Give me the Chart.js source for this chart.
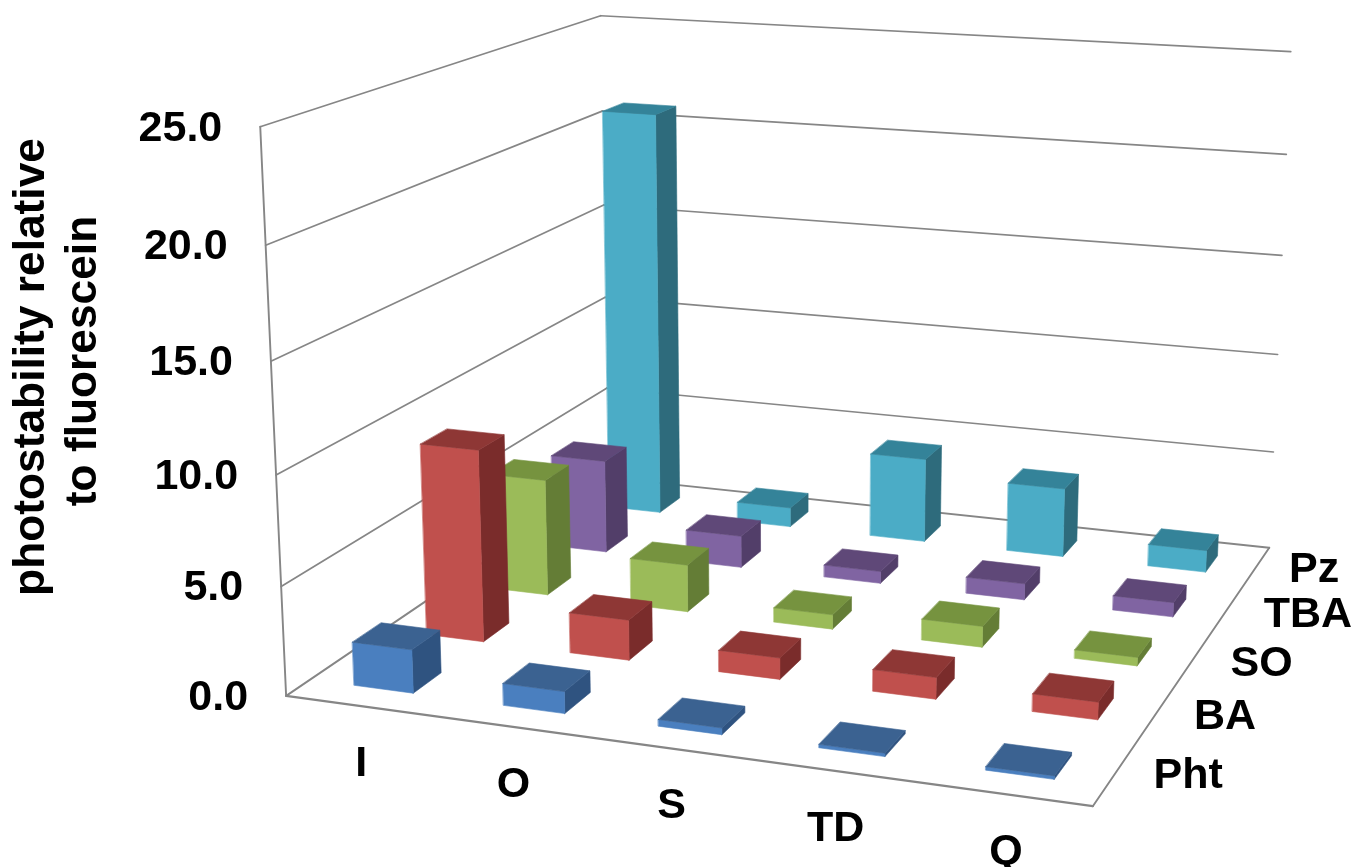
<!DOCTYPE html>
<html>
<head>
<meta charset="utf-8">
<style>
  html, body { margin: 0; padding: 0; background: #ffffff; }
  canvas { display: block; }
</style>
<script src="https://cdn.jsdelivr.net/npm/chart.js@4"></script>
</head>
<body>
<canvas id="chart" width="1358" height="867"></canvas>
<script>
// Values per sensitiser series, in solvent order I, O, S, TD, Q
const solvents = ['I', 'O', 'S', 'TD', 'Q'];
const seriesNames = ['Pht', 'BA', 'SO', 'TBA', 'Pz'];
const phtValues = [2.0, 1.0, 0.3, 0.15, 0.15];
const baValues = [9.1, 1.9, 1.0, 1.0, 0.8];
const soValues = [5.7, 2.3, 0.7, 1.0, 0.4];
const tbaValues = [4.7, 1.6, 0.6, 0.8, 0.7];
const pzValues = [20.9, 1.0, 4.3, 3.5, 1.1];
const yTitleLines = ['photostability relative', 'to fluorescein'];

const seriesValues = [phtValues, baValues, soValues, tbaValues, pzValues];
const palette = [
  { front: '#4a7fbf', top: '#3b6291', side: '#2f5380' },
  { front: '#c0504d', top: '#8e3735', side: '#7a2c2b' },
  { front: '#9bbb59', top: '#76933f', side: '#647d36' },
  { front: '#8064a2', top: '#5f4878', side: '#523e69' },
  { front: '#4bacc6', top: '#348399', side: '#2e6b7c' }
];

// Camera calibration: unit-cube positions (solvent, series, value) and where they land
const cameraAnchors = [
  [0, 0, 0, 284, 697], [1, 0, 0, 1092, 807], [1, 1, 0, 1268, 547], [0, 1, 0, 610, 478],
  [0, 0, 1, 260, 127], [0, 1, 1, 598, 16], [1, 1, 1, 1292, 52],
  [0, 0, .2, 281, 587], [0, 0, .4, 277, 474], [0, 0, .6, 272, 360], [0, 0, .8, 267, 245],
  [1, 1, .2, 1274, 451], [1, 1, .4, 1278, 355], [1, 1, .6, 1282, 255], [1, 1, .8, 1286, 155]
];

function solveLinear(M, v) {
  const n = v.length;
  const a = M.map((row, i) => [...row, v[i]]);
  for (let c = 0; c < n; c++) {
    let p = c;
    for (let r = c + 1; r < n; r++) if (Math.abs(a[r][c]) > Math.abs(a[p][c])) p = r;
    [a[c], a[p]] = [a[p], a[c]];
    for (let r = 0; r < n; r++) {
      if (r === c) continue;
      const f = a[r][c] / a[c][c];
      for (let k = c; k <= n; k++) a[r][k] -= f * a[c][k];
    }
  }
  return a.map((row, i) => row[n] / row[i]);
}

// Least-squares fit of the 3x4 projective camera (last entry fixed to 1)
function fitCamera(anchors) {
  const rows = [], rhs = [];
  for (const [x, d, z, u0, v0] of anchors) {
    const u = u0 / 1000, v = v0 / 1000;
    rows.push([x, d, z, 1, 0, 0, 0, 0, -u * x, -u * d, -u * z]); rhs.push(u);
    rows.push([0, 0, 0, 0, x, d, z, 1, -v * x, -v * d, -v * z]); rhs.push(v);
  }
  const n = 11;
  const N = Array.from({ length: n }, () => new Array(n).fill(0));
  const b = new Array(n).fill(0);
  rows.forEach((r, i) => {
    for (let p = 0; p < n; p++) {
      b[p] += r[p] * rhs[i];
      for (let q = 0; q < n; q++) N[p][q] += r[p] * r[q];
    }
  });
  return solveLinear(N, b);
}
const cam = fitCamera(cameraAnchors);
function project(x, d, z) {
  const w = cam[8] * x + cam[9] * d + cam[10] * z + 1;
  return [
    1000 * (cam[0] * x + cam[1] * d + cam[2] * z + cam[3]) / w,
    1000 * (cam[4] * x + cam[5] * d + cam[6] * z + cam[7]) / w
  ];
}

const barShareX = 0.40;
const barShareD = 0.385;
const depthLabelShift = [0, 0, 0, 0, -5];
const fontStack = '"Liberation Sans", Arial, sans-serif';

function frac(scale, value) {
  const px = scale.getPixelForValue(value);
  return scale.isHorizontal() ? (px - scale.left) / scale.width : (scale.bottom - px) / scale.height;
}

function face(ctx, pts, color) {
  ctx.beginPath();
  pts.forEach((p, i) => (i ? ctx.lineTo(p[0], p[1]) : ctx.moveTo(p[0], p[1])));
  ctx.closePath();
  ctx.fillStyle = color;
  ctx.fill();
  ctx.strokeStyle = color;
  ctx.lineWidth = 0.6;
  ctx.stroke();
}

function line(ctx, a, b, width) {
  ctx.beginPath();
  ctx.moveTo(a[0], a[1]);
  ctx.lineTo(b[0], b[1]);
  ctx.lineWidth = width;
  ctx.strokeStyle = '#868686';
  ctx.stroke();
}

const perspectiveBars = {
  id: 'perspectiveBars',
  beforeDatasetsDraw(chart) {
    const { ctx, scales } = chart;
    const xS = scales.x, yS = scales.y, dS = scales.depth;
    ctx.save();
    ctx.lineCap = 'round';
    ctx.lineJoin = 'round';

    // Walls and floor
    yS.ticks.forEach(t => {
      const z = frac(yS, t.value);
      if (z > 0) {
        line(ctx, project(0, 0, z), project(0, 1, z), 1.7);
        line(ctx, project(0, 1, z), project(1, 1, z), 1.7);
      }
    });
    line(ctx, project(0, 0, 0), project(0, 0, 1), 1.9);
    line(ctx, project(0, 0, 0), project(0, 1, 0), 1.9);
    line(ctx, project(0, 1, 0), project(1, 1, 0), 1.9);
    line(ctx, project(1, 1, 0), project(1, 0, 0), 1.9);
    line(ctx, project(1, 0, 0), project(0, 0, 0), 2.2);

    // Columns, painted from the back row forwards
    const halfX = barShareX / 2 / solvents.length;
    const halfD = barShareD / 2 / seriesNames.length;
    for (let s = chart.data.datasets.length - 1; s >= 0; s--) {
      const meta = chart.getDatasetMeta(s);
      const colors = palette[s];
      const dc = frac(dS, s);
      for (let i = 0; i < solvents.length; i++) {
        const xc = frac(xS, i);
        const z = frac(yS, meta._parsed[i].y);
        const x0 = xc - halfX, x1 = xc + halfX, d0 = dc - halfD, d1 = dc + halfD;
        face(ctx, [project(x1, d0, 0), project(x1, d1, 0), project(x1, d1, z), project(x1, d0, z)], colors.side);
        face(ctx, [project(x0, d0, 0), project(x1, d0, 0), project(x1, d0, z), project(x0, d0, z)], colors.front);
        face(ctx, [project(x0, d0, z), project(x1, d0, z), project(x1, d1, z), project(x0, d1, z)], colors.top);
      }
    }

    // Axis text
    ctx.fillStyle = '#000000';
    ctx.font = 'bold 43px ' + fontStack;
    ctx.textBaseline = 'middle';
    ctx.textAlign = 'right';
    yS.ticks.forEach(t => {
      const p = project(0, 0, frac(yS, t.value));
      ctx.fillText(t.label, p[0] - 38, p[1] + 2);
    });

    ctx.textAlign = 'left';
    seriesNames.forEach((name, s) => {
      const p = project(1, frac(dS, s), 0);
      ctx.fillText(name, p[0] + 39 + depthLabelShift[s], p[1] + 2);
    });

    ctx.textAlign = 'center';
    solvents.forEach((name, i) => {
      const p = project(frac(xS, i), 0, 0);
      ctx.fillText(name, p[0] + 1, p[1] + 58);
    });

    // Rotated value-axis title, two lines
    ctx.font = 'bold 44.3px ' + fontStack;
    ctx.save();
    ctx.translate(32, 367);
    ctx.rotate(-Math.PI / 2);
    ctx.fillText(yTitleLines[0], 0, 0);
    ctx.fillText(yTitleLines[1], 6, 52);
    ctx.restore();

    ctx.restore();
    return false;
  }
};

new Chart(document.getElementById('chart'), {
  type: 'bar',
  data: {
    labels: solvents,
    datasets: seriesNames.map((name, s) => ({
      label: name,
      data: seriesValues[s],
      backgroundColor: palette[s].front
    }))
  },
  options: {
    responsive: false,
    animation: false,
    layout: { padding: 0 },
    plugins: { legend: { display: false }, tooltip: { enabled: false } },
    scales: {
      x: { type: 'category', display: false, offset: true },
      depth: { type: 'category', axis: 'x', labels: seriesNames, display: false, offset: true },
      y: {
        type: 'linear', display: false, min: 0, max: 25,
        ticks: { stepSize: 5, callback: v => v.toFixed(1) }
      }
    }
  },
  plugins: [perspectiveBars]
});
</script>
</body>
</html>
